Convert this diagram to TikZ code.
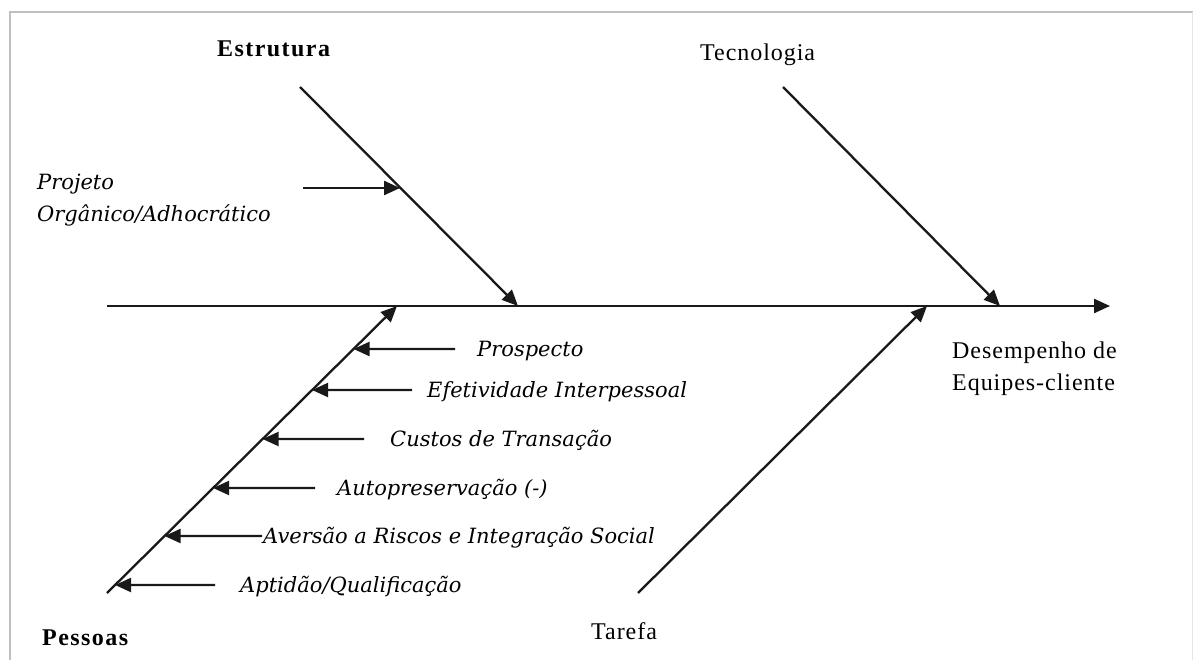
\documentclass[tikz,border=0pt]{standalone}
\usepackage{fontspec}
\setmainfont{Liberation Serif}
\newfontfamily\causefont[LetterSpace=4]{Liberation Serif}
\newfontfamily\boldcausefont[LetterSpace=6]{Liberation Serif}
\newfontfamily\factorfont{DejaVu Serif}
\usetikzlibrary{arrows.meta,calc}
\begin{document}
\begin{tikzpicture}[x=1pt,y=-1pt,
  frame/.style={draw=black!25,line width=1.5pt},
  bone/.style={draw=black!90,line width=2.3pt},
  arr/.style={bone,-{Triangle[length=16pt,width=14pt]}},
  head/.style={inner sep=0pt,anchor=base west,font=\causefont\fontsize{24}{28}\selectfont},
  headbold/.style={head,font=\boldcausefont\bfseries\fontsize{24}{28}\selectfont},
  factor/.style={inner sep=0pt,anchor=base west,font=\factorfont\itshape\fontsize{21}{25}\selectfont},
]
\useasboundingbox (0,0) rectangle (1193,660);
\fill[white] (0,0) rectangle (1193,660);
% page frame
\draw[frame] (10,660) -- (10,12) -- (1193,12);
\draw[draw=black!10,line width=1pt] (1192,12) -- (1192,660);

% spine and effect
\coordinate (tail) at (107,306);
\coordinate (head) at (1110,306);
\draw[arr] (tail) -- (head);
\node[head] (effect1) at (952,358) {Desempenho de};
\node[head] (effect2) at (952,390) {Equipes-cliente};

% main bones
\coordinate (estTop) at (300,87);  \coordinate (estEnd) at (518,306);
\coordinate (tecTop) at (783,87);  \coordinate (tecEnd) at (1000,306);
\coordinate (pesBot) at (107,593); \coordinate (pesEnd) at (397,306);
\coordinate (tarBot) at (638,593); \coordinate (tarEnd) at (927,306);
\draw[arr] (estTop) -- (estEnd);
\draw[arr] (tecTop) -- (tecEnd);
\draw[arr] (pesBot) -- (pesEnd);
\draw[arr] (tarBot) -- (tarEnd);

\node[headbold] (estrutura) at (217,57) {Estrutura};
\node[head] (tecnologia) at (700,61) {Tecnologia};
\node[headbold] (pessoas) at (42,645) {Pessoas};
\node[head] (tarefa) at (591,639) {Tarefa};

% Estrutura factor
\coordinate (projTail) at (303,188);
\coordinate (projTip) at (400,188);
\draw[arr] (projTail) -- (projTip);
\node[factor] (projeto1) at (37,190) {Projeto};
\node[factor] (projeto2) at (37,222) {Orgânico/Adhocrático};

% Pessoas factors
\foreach \nm/\y/\tl/\tx/\txt in {
  prospecto/349/455/477/{Prospecto},
  efetividade/390/412/427/{Efetividade Interpessoal},
  custos/439/364/390/{Custos de Transação},
  autopres/488/315/337/{Autopreservação (-)},
  aversao/536/262/263/{Aversão a Riscos e Integração Social},
  aptidao/585/215/240/{Aptidão/Qualificação}}{
  \coordinate (\nm Tail) at (\tl,\y);
  \coordinate (\nm Tip) at ($(pesBot)!{(593-\y)/287}!(pesEnd)$);
  \draw[arr] (\nm Tail) -- (\nm Tip);
  \node[factor] (\nm) at (\tx,\y+7) {\txt};
}
\end{tikzpicture}
\end{document}
